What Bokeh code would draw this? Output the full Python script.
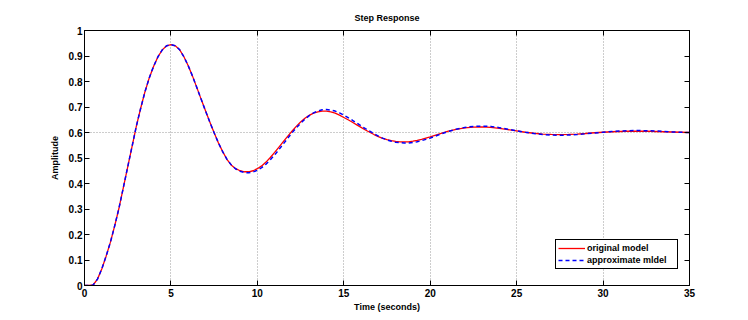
from bokeh.plotting import figure
from bokeh.models import LinearAxis, FixedTicker, Legend, LegendItem, Range1d
from bokeh.embed import file_html
from bokeh.resources import INLINE

# ---- data ----
time_s = [0.0, 0.25, 0.5, 0.75, 1.0, 1.25, 1.5, 1.75, 2.0, 2.25,
          2.5, 2.75, 3.0, 3.25, 3.5, 3.75, 4.0, 4.25, 4.5, 4.75,
          5.0, 5.25, 5.5, 5.75, 6.0, 6.25, 6.5, 6.75, 7.0, 7.25,
          7.5, 7.75, 8.0, 8.25, 8.5, 8.75, 9.0, 9.25, 9.5, 9.75,
          10.0, 10.25, 10.5, 10.75, 11.0, 11.25, 11.5, 11.75, 12.0, 12.25,
          12.5, 12.75, 13.0, 13.25, 13.5, 13.75, 14.0, 14.25, 14.5, 14.75,
          15.0, 15.25, 15.5, 15.75, 16.0, 16.25, 16.5, 16.75, 17.0, 17.25,
          17.5, 17.75, 18.0, 18.25, 18.5, 18.75, 19.0, 19.25, 19.5, 19.75,
          20.0, 20.5, 21.0, 21.5, 22.0, 22.5, 23.0, 23.5, 24.0, 24.5,
          25.0, 25.5, 26.0, 26.5, 27.0, 27.5, 28.0, 28.5, 29.0, 29.5,
          30.0, 30.5, 31.0, 31.5, 32.0, 32.5, 33.0, 33.5, 34.0, 34.5, 35.0]

original_model = [0.000, 0.000, 0.002, 0.025, 0.065, 0.115, 0.170, 0.235, 0.305, 0.385,
                  0.465, 0.545, 0.625, 0.695, 0.760, 0.815, 0.860, 0.897, 0.924, 0.940,
                  0.945, 0.940, 0.925, 0.897, 0.862, 0.821, 0.776, 0.730, 0.685, 0.641,
                  0.599, 0.559, 0.524, 0.494, 0.472, 0.458, 0.450, 0.446, 0.446, 0.450,
                  0.458, 0.469, 0.484, 0.502, 0.522, 0.543, 0.564, 0.585, 0.605, 0.624,
                  0.641, 0.656, 0.667, 0.676, 0.681, 0.684, 0.684, 0.681, 0.676, 0.668,
                  0.659, 0.650, 0.640, 0.630, 0.620, 0.610, 0.601, 0.592, 0.584, 0.577,
                  0.572, 0.568, 0.565, 0.5635, 0.563, 0.5635, 0.566, 0.569, 0.573, 0.578,
                  0.583, 0.594, 0.604, 0.612, 0.618, 0.621, 0.622, 0.620, 0.616, 0.611,
                  0.606, 0.601, 0.597, 0.594, 0.5925, 0.592, 0.5925, 0.594, 0.596, 0.599,
                  0.601, 0.603, 0.604, 0.605, 0.605, 0.605, 0.604, 0.603, 0.602, 0.601, 0.600]

approximate_model = [0.000, 0.000, 0.002, 0.025, 0.065, 0.115, 0.170, 0.235, 0.305, 0.385,
                     0.465, 0.545, 0.625, 0.695, 0.760, 0.815, 0.860, 0.897, 0.924, 0.940,
                     0.945, 0.940, 0.925, 0.897, 0.862, 0.821, 0.776, 0.730, 0.685, 0.641,
                     0.599, 0.559, 0.524, 0.494, 0.472, 0.457, 0.448, 0.443, 0.442, 0.445,
                     0.452, 0.462, 0.476, 0.493, 0.512, 0.533, 0.555, 0.577, 0.598, 0.618,
                     0.636, 0.652, 0.666, 0.677, 0.684, 0.689, 0.690, 0.688, 0.684, 0.677,
                     0.668, 0.658, 0.648, 0.637, 0.626, 0.615, 0.605, 0.595, 0.586, 0.578,
                     0.571, 0.566, 0.562, 0.560, 0.559, 0.559, 0.561, 0.564, 0.568, 0.573,
                     0.578, 0.591, 0.603, 0.613, 0.620, 0.624, 0.625, 0.624, 0.619, 0.613,
                     0.607, 0.601, 0.596, 0.592, 0.590, 0.589, 0.590, 0.592, 0.595, 0.598,
                     0.601, 0.604, 0.606, 0.607, 0.608, 0.607, 0.606, 0.604, 0.602, 0.601, 0.600]

x_ticks = [0, 5, 10, 15, 20, 25, 30, 35]
x_tick_labels = ["0", "5", "10", "15", "20", "25", "30", "35"]
y_ticks = [0, 0.1, 0.2, 0.3, 0.4, 0.5, 0.6, 0.7, 0.8, 0.9, 1]
y_tick_labels = ["0", "0.1", "0.2", "0.3", "0.4", "0.5", "0.6", "0.7", "0.8", "0.9", "1"]
grid_x = [5, 10, 15, 20, 25, 30]
steady_state = [0.6]

series_names = ["original model", "approximate mldel"]

FONT = "Liberation Sans"

p = figure(width=740, height=314, output_backend="svg", toolbar_location=None,
           x_range=Range1d(0, 35), y_range=Range1d(0, 1),
           min_border_left=84, min_border_right=51, min_border_top=30, min_border_bottom=28,
           title="Step Response")

p.title.text_font = FONT
p.title.text_font_size = "9px"
p.title.text_font_style = "bold"
p.title.align = "center"
p.title.text_color = "black"
p.title.standoff = 16

p.outline_line_color = "black"
p.outline_line_width = 1
p.background_fill_color = "white"
p.border_fill_color = "white"

def style_axis(ax, show_labels=True):
    ax.axis_line_color = "black"
    ax.axis_line_width = 1
    ax.major_tick_line_color = "black"
    ax.major_tick_in = 5
    ax.major_tick_out = 0
    ax.minor_tick_line_color = None
    ax.major_label_text_font = FONT
    ax.major_label_text_font_style = "bold"
    if show_labels:
        ax.major_label_text_font_size = "10px"
        ax.major_label_text_color = "black"
    else:
        ax.major_label_text_font_size = "1px"
        ax.major_label_text_color = None
        ax.major_label_standoff = 0
    ax.axis_label_text_font = FONT
    ax.axis_label_text_font_style = "bold"
    ax.axis_label_text_font_size = "9px"
    ax.axis_label_text_color = "black"

xa = p.xaxis[0]
ya = p.yaxis[0]
xa.ticker = FixedTicker(ticks=x_ticks)
ya.ticker = FixedTicker(ticks=y_ticks)
xa.major_label_overrides = dict(zip(x_ticks, x_tick_labels))
ya.major_label_overrides = dict(zip(y_ticks, y_tick_labels))
style_axis(xa)
style_axis(ya)
xa.axis_label = "Time (seconds)"
ya.axis_label = "Amplitude"
xa.major_label_standoff = 3
xa.axis_label_standoff = 2
ya.major_label_standoff = 2
ya.axis_label_standoff = 6

top_ax = LinearAxis(ticker=FixedTicker(ticks=x_ticks))
style_axis(top_ax, show_labels=False)
p.add_layout(top_ax, "above")
right_ax = LinearAxis(ticker=FixedTicker(ticks=y_ticks))
style_axis(right_ax, show_labels=False)
p.add_layout(right_ax, "right")

p.xgrid.ticker = FixedTicker(ticks=grid_x)
p.ygrid.ticker = FixedTicker(ticks=steady_state)
for g in (p.xgrid[0], p.ygrid[0]):
    g.grid_line_color = "#9a9a9a"
    g.grid_line_dash = "1 2"
    g.grid_line_width = 1

r_orig = p.line(time_s, original_model, line_color="#ff0000", line_width=1.3)
r_appr = p.line(time_s, approximate_model, line_color="#0000ff", line_width=1.5,
                line_dash="4 3")

legend = Legend(items=[LegendItem(label=series_names[0], renderers=[r_orig]),
                       LegendItem(label=series_names[1], renderers=[r_appr])],
                location=(471, 16))
legend.border_line_color = "black"
legend.border_line_width = 1
legend.border_line_alpha = 1
legend.background_fill_color = "white"
legend.background_fill_alpha = 1
legend.label_text_font = FONT
legend.label_text_font_style = "bold"
legend.label_text_font_size = "9px"
legend.label_text_color = "black"
legend.glyph_width = 27
legend.glyph_height = 12
legend.label_height = 12
legend.label_width = 88
legend.label_standoff = 2
legend.padding = 2
legend.spacing = 0
legend.margin = 0
p.add_layout(legend, "center")

open("out.html", "w").write(file_html(p, INLINE))
